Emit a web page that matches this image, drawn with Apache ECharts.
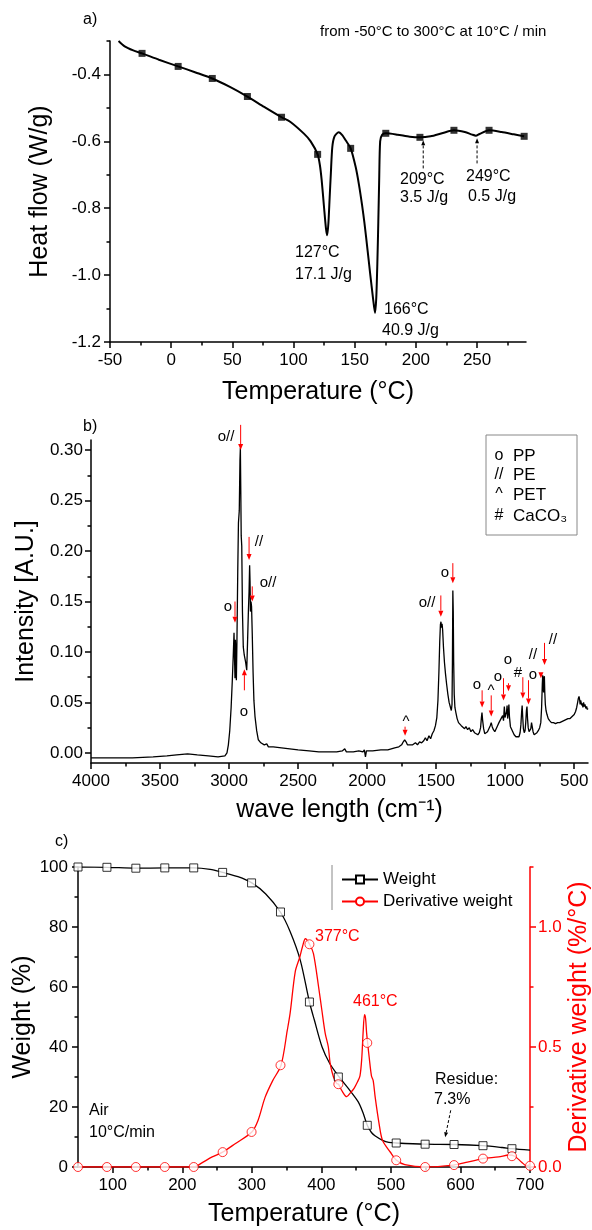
<!DOCTYPE html>
<html><head><meta charset="utf-8">
<script src="https://cdn.jsdelivr.net/npm/echarts@6/dist/echarts.min.js"></script>
<style>html,body{margin:0;padding:0;background:#fff}#c{width:592px;height:1230px}</style>
</head><body><div id="c"></div>
<script>
// ---------- Panel a: DSC ----------
const dscTemp = [-43,-38,-31,-23.8,-10,5.7,20,33.6,48,62.3,
 76,90.2,97.5,108.5,114,119.7,121.5,123,125,126.5,
 127.5,128.5,129.5,130.5,131.7,133.5,136.9,140,142.6,146.7,
 150.8,153.5,156,158,160.5,162.6,165,166.6,167.6,168.5,
 169.3,170,170.8,172.5,175.4,185,195,203.3,212,222,
 231.1,240,246,249,252,259.8,270,280,288.5];
const dscFlow = [-0.300,-0.316,-0.328,-0.337,-0.356,-0.376,-0.394,-0.412,-0.437,-0.466,
 -0.497,-0.528,-0.542,-0.577,-0.600,-0.639,-0.670,-0.716,-0.800,-0.860,
 -0.881,-0.845,-0.770,-0.696,-0.617,-0.585,-0.573,-0.582,-0.597,-0.621,
 -0.677,-0.730,-0.790,-0.845,-0.925,-0.995,-1.070,-1.113,-1.070,-0.965,
 -0.840,-0.716,-0.600,-0.580,-0.576,-0.580,-0.586,-0.588,-0.585,-0.575,
 -0.567,-0.572,-0.580,-0.583,-0.578,-0.567,-0.572,-0.579,-0.585];
const dscMarkTemp = [-23.8,5.7,33.6,62.3,90.2,119.7,146.7,175.4,203.3,231.1,259.8,288.5];
const dscMarkFlow = [-0.337,-0.376,-0.412,-0.466,-0.528,-0.639,-0.621,-0.576,-0.588,-0.567,-0.567,-0.585];
const dscXTicks = [-50,0,50,100,150,200,250];
const dscXMinor = [-25,25,75,125,175,225,275];
const dscYTicks = [-1.2,-1.0,-0.8,-0.6,-0.4];
const dscYMinor = [-1.1,-0.9,-0.7,-0.5,-0.3];
const dscArrows = [[206,-0.681,206,-0.597],[250,-0.666,250,-0.591]];

// ---------- Panel b: spectrum ----------
const specWave = [4000,3850,3700,3550,3450,3380,3300,3230,3150,3080,
 3030,3015,3005,2995,2985,2977,2970,2964,2960,2957,
 2954,2950,2947,2943,2937,2932,2926,2921,2918,2915,
 2912,2908,2903,2897,2890,2880,2872,2866,2860,2855,
 2851,2848,2845,2841,2837,2832,2826,2820,2812,2800,
 2788,2770,2745,2727,2715,2680,2620,2560,2500,2420,
 2350,2280,2220,2180,2162,2150,2100,2060,2030,2020,
 2012,2005,1960,1900,1850,1800,1770,1750,1738,1728,
 1718,1708,1695,1670,1650,1635,1620,1605,1590,1578,
 1566,1552,1540,1528,1516,1505,1495,1487,1480,1474,
 1469,1465,1461,1457,1453,1447,1440,1432,1424,1415,
 1406,1398,1390,1385,1382,1379,1376,1373,1369,1364,
 1357,1348,1338,1328,1318,1305,1294,1284,1272,1260,
 1248,1236,1222,1210,1198,1187,1178,1172,1168,1163,
 1156,1148,1138,1128,1118,1108,1101,1094,1085,1075,
 1065,1055,1045,1035,1026,1018,1012,1006,1001,995,
 990,986,982,977,973,969,962,955,945,935,
 922,910,900,892,886,881,877,873,868,862,
 856,851,846,842,838,833,827,820,814,809,
 804,798,790,780,770,760,750,742,736,731,
 728,725,722,719,716,713,709,704,697,688,
 678,665,650,635,620,605,590,575,560,545,
 530,515,500,490,482,475,470,465,461,457,
 453,449,445,441,437,432,427,422,416,410,
 405,400];
const specIntensity = [-0.005,-0.005,-0.005,-0.004,-0.003,-0.002,-0.001,-0.002,-0.003,-0.004,
 -0.003,0.000,0.008,0.022,0.045,0.070,0.095,0.119,0.092,0.074,
 0.112,0.100,0.072,0.110,0.180,0.228,0.240,0.290,0.302,0.260,
 0.215,0.205,0.140,0.105,0.097,0.090,0.082,0.110,0.140,0.160,
 0.186,0.170,0.140,0.150,0.145,0.118,0.080,0.052,0.036,0.022,
 0.013,0.010,0.008,0.009,0.006,0.006,0.005,0.004,0.003,0.002,
 0.001,0.001,0.001,0.002,0.004,0.001,0.001,0.002,0.001,0.003,
 -0.004,0.002,0.002,0.003,0.003,0.005,0.006,0.008,0.011,0.013,
 0.011,0.008,0.007,0.008,0.010,0.008,0.011,0.010,0.012,0.015,
 0.012,0.017,0.014,0.019,0.022,0.027,0.035,0.052,0.080,0.110,
 0.127,0.130,0.124,0.128,0.122,0.105,0.090,0.078,0.068,0.058,
 0.050,0.046,0.042,0.048,0.090,0.161,0.140,0.090,0.058,0.045,
 0.040,0.034,0.030,0.029,0.027,0.028,0.024,0.026,0.023,0.025,
 0.021,0.023,0.020,0.019,0.018,0.020,0.025,0.035,0.040,0.032,
 0.024,0.019,0.018,0.021,0.024,0.027,0.030,0.026,0.023,0.021,
 0.024,0.027,0.030,0.030,0.035,0.037,0.032,0.046,0.035,0.034,
 0.041,0.047,0.034,0.040,0.048,0.036,0.026,0.024,0.021,0.018,
 0.016,0.015,0.016,0.020,0.028,0.040,0.047,0.036,0.024,0.020,
 0.022,0.030,0.042,0.046,0.034,0.025,0.021,0.020,0.024,0.030,
 0.026,0.021,0.018,0.018,0.020,0.022,0.025,0.030,0.045,0.068,
 0.077,0.068,0.060,0.074,0.076,0.060,0.048,0.042,0.038,0.034,
 0.032,0.030,0.030,0.029,0.030,0.030,0.031,0.032,0.033,0.034,
 0.034,0.036,0.038,0.041,0.045,0.050,0.054,0.056,0.053,0.048,
 0.052,0.053,0.047,0.049,0.045,0.050,0.046,0.048,0.044,0.046,
 0.043,0.044];
const specXTicks = [4000,3500,3000,2500,2000,1500,1000,500];
const specXMinor = [3750,3250,2750,2250,1750,1250,750];
const specYTicks = [0,0.05,0.10,0.15,0.20,0.25,0.30];
const specYMinor = [0.025,0.075,0.125,0.175,0.225,0.275];
// arrows: [wave, from, to]
const specArrows = [[2916,0.325,0.300],[2855,0.214,0.191],[2832,0.165,0.150],[2957,0.150,0.129],
 [2889,0.062,0.083],[1466,0.156,0.135],[1379,0.188,0.168],[1167,0.062,0.045],[1101,0.057,0.036],
 [1012,0.074,0.052],[976,0.069,0.061],[872,0.075,0.054],[831,0.072,0.048],[741,0.080,0.074],
 [715,0.109,0.087],[1725,0.026,0.017]];
const specLabels = [['o//',226,437],['//',259,542],['o//',268,583],['o',228,607],['o',244,712],
 ['^',406,722],['o//',427,603],['o',445,573],['o',477,685],['^',491,691],['o',498,677],
 ['o',508,660],['#',518,673],['o',533,675],['//',533,655],['//',553,640]];

// ---------- Panel c: TGA ----------
const tgaTemp = [50,91.6,133.2,174.8,216.4,240,258,280,300,320,
 341,355,369.7,382.8,390,401,412,425.6,439,453,
 460,466,472,477,488,497,507.6,549,591,632,
 660,674,700];
const tgaWeight = [100,99.9,99.6,99.7,99.7,99.2,98.2,96.8,94.7,91.0,
 85.0,78.5,68.9,55.0,48.9,40.0,34.5,30.0,26.1,21.7,
 18.0,13.9,11.5,10.4,8.9,8.2,8.0,7.6,7.5,7.1,
 6.5,6.1,5.6];
const dtgTemp = [50,91.6,133.2,174.8,216.4,227,243,258,276,300,
 309,319,330,342,351,355,362.5,369,373,377,
 383,388.6,396,400.7,405.5,410,412.6,417.4,422,424.6,
 429,436.5,442,447,452,455.5,458,460,462,463.5,
 465,466.5,469,472,474.5,477.4,483,488,499,508,
 520,549,590,610,632,655,670,678,688,695,
 700];
const dtgValue = [0,0,0,0,0,0.015,0.042,0.062,0.097,0.146,
 0.195,0.29,0.36,0.424,0.57,0.64,0.815,0.875,0.92,0.951,
 0.928,0.889,0.75,0.653,0.557,0.50,0.432,0.375,0.348,0.345,
 0.32,0.293,0.31,0.328,0.355,0.38,0.45,0.56,0.635,0.62,
 0.56,0.517,0.45,0.38,0.36,0.29,0.18,0.11,0.0625,0.028,
 0.01,0,0.008,0.02,0.035,0.042,0.05,0.045,0.02,0.005,
 0.01];
const tgaMarkTemp = [50,91.6,133.2,174.8,216.4,258,299.6,341.2,382.8,424.4,466,507.6,549.2,590.8,632.4,674];
const weightMark = [100,99.9,99.6,99.7,99.7,98.2,94.7,85.0,55.0,30.0,13.9,8.0,7.6,7.5,7.1,6.1];
const dtgMarkTemp = [50,91.6,133.2,174.8,216.4,258,299.6,341.2,382.8,424.4,466,507.6,549.2,590.8,632.4,674,700];
const dtgMark = [0,0,0,0,0,0.062,0.146,0.424,0.928,0.345,0.517,0.028,0,0.008,0.035,0.045,0.005];
const tgaXTicks = [100,200,300,400,500,600,700];
const tgaXMinor = [150,250,350,450,550,650];
const tgaYTicks = [0,20,40,60,80,100];
const tgaYMinor = [10,30,50,70,90];
const dtgYTicks = [0,0.5,1.0];
const dtgYMinor = [0.25,0.75,1.25];
const tgaArrows = [[586,18.9,578,9.9]];

// ---------- build ----------
const FONT = '"Liberation Sans", Arial, Helvetica, sans-serif';
const BLACK = '#000', RED = '#ff0000';
const zip = (a, b) => a.map((v, i) => [v, b[i]]);

function baseAxis(gi, min, max, pos, color, extra) {
  return Object.assign({
    type: 'value', gridIndex: gi, min: min, max: max, position: pos,
    axisLine: {show: true, onZero: false, lineStyle: {color: color, width: 1.5}},
    splitLine: {show: false}
  }, extra || {});
}
function mainAx(gi, min, max, pos, color, ticks, fmt, margin, extra) {
  return baseAxis(gi, min, max, pos, color, Object.assign({
    axisTick: {show: true, customValues: ticks, length: 6, lineStyle: {color: color, width: 1.5}},
    axisLabel: {show: true, customValues: ticks, formatter: fmt, margin: margin, fontSize: 17, color: color, fontFamily: FONT}
  }, extra || {}));
}
function minorAx(gi, min, max, pos, color, ticks, extra) {
  return baseAxis(gi, min, max, pos, color, Object.assign({
    axisLine: {show: false, onZero: false},
    axisTick: {show: true, customValues: ticks, length: 3.5, lineStyle: {color: color, width: 1.5}},
    axisLabel: {show: false}
  }, extra || {}));
}
function nameOpt(name, gap, color, rot) {
  const o = {name: name, nameLocation: 'middle', nameGap: gap, nameMoveOverlap: false,
    nameTextStyle: {fontSize: 25, color: color, fontFamily: FONT}};
  if (rot != null) o.nameRotate = rot;
  return o;
}
const f0 = v => String(v);
const f1 = v => v.toFixed(1);
const f2 = v => v.toFixed(2);

const option = {
  animation: false,
  backgroundColor: '#fff',
  textStyle: {fontFamily: FONT},
  grid: [
    {left: 110, top: 41, width: 416, height: 301, outerBoundsMode: 'none', containLabel: false},
    {left: 91, top: 440, width: 497, height: 323, outerBoundsMode: 'none', containLabel: false},
    {left: 78, top: 867, width: 452, height: 300, outerBoundsMode: 'none', containLabel: false}
  ],
  xAxis: [
    mainAx(0, -50, 290, 'bottom', BLACK, dscXTicks, f0, 10, nameOpt('Temperature (°C)', 38, BLACK)),
    minorAx(0, -50, 290, 'bottom', BLACK, dscXMinor),
    mainAx(1, 400, 4000, 'bottom', BLACK, specXTicks, f0, 10, Object.assign({inverse: true}, nameOpt('wave length (cm⁻¹)', 35, BLACK))),
    minorAx(1, 400, 4000, 'bottom', BLACK, specXMinor, {inverse: true}),
    mainAx(2, 50, 700, 'bottom', BLACK, tgaXTicks, f0, 10, nameOpt('Temperature (°C)', 35, BLACK)),
    minorAx(2, 50, 700, 'bottom', BLACK, tgaXMinor)
  ],
  yAxis: [
    mainAx(0, -1.2, -0.3, 'left', BLACK, dscYTicks, f1, 9, nameOpt('Heat flow (W/g)', 57, BLACK, 90)),
    minorAx(0, -1.2, -0.3, 'left', BLACK, dscYMinor),
    mainAx(1, -0.01, 0.31, 'left', BLACK, specYTicks, f2, 8, nameOpt('Intensity [A.U.]', 52, BLACK, 90)),
    minorAx(1, -0.01, 0.31, 'left', BLACK, specYMinor),
    mainAx(2, 0, 100, 'left', BLACK, tgaYTicks, f0, 10, nameOpt('Weight (%)', 42, BLACK, 90)),
    minorAx(2, 0, 100, 'left', BLACK, tgaYMinor),
    mainAx(2, 0, 1.25, 'right', RED, dtgYTicks, f1, 8, nameOpt('Derivative weight (%/°C)', 37, RED, 90)),
    minorAx(2, 0, 1.25, 'right', RED, dtgYMinor)
  ],
  legend: {
    data: ['Weight', 'Derivative weight'], orient: 'vertical', left: 336, top: 866,
    itemWidth: 36, itemHeight: 10, itemGap: 5, selectedMode: false,
    textStyle: {fontSize: 17, color: '#000', fontFamily: FONT}
  },
  series: [
    {type: 'line', xAxisIndex: 0, yAxisIndex: 0, data: zip(dscTemp, dscFlow), showSymbol: false, smooth: 0.25,
     lineStyle: {color: BLACK, width: 2}, itemStyle: {color: BLACK}, z: 3},
    {type: 'scatter', xAxisIndex: 0, yAxisIndex: 0, data: zip(dscMarkTemp, dscMarkFlow), symbol: 'rect', symbolSize: 7,
     itemStyle: {color: BLACK}, z: 4},
    {type: 'line', xAxisIndex: 2, yAxisIndex: 2, data: zip(specWave, specIntensity), showSymbol: false,
     lineStyle: {color: BLACK, width: 1.3}, itemStyle: {color: BLACK}, z: 3},
    {type: 'line', name: 'Weight', xAxisIndex: 4, yAxisIndex: 4, data: zip(tgaTemp, tgaWeight), showSymbol: false, smooth: 0.3,
     symbol: 'emptyRect', symbolSize: 8, lineStyle: {color: BLACK, width: 1.3}, itemStyle: {color: BLACK}, z: 3},
    {type: 'line', name: 'Derivative weight', xAxisIndex: 4, yAxisIndex: 6, data: zip(dtgTemp, dtgValue), showSymbol: false, smooth: 0.3,
     symbol: 'emptyCircle', symbolSize: 8, lineStyle: {color: RED, width: 1.3}, itemStyle: {color: RED}, z: 3},
    {type: 'scatter', xAxisIndex: 4, yAxisIndex: 4, data: zip(tgaMarkTemp, weightMark), symbol: 'rect', symbolSize: 8,
     itemStyle: {color: '#fff', borderColor: BLACK, borderWidth: 1}, z: 5},
    {type: 'scatter', xAxisIndex: 4, yAxisIndex: 6, data: zip(dtgMarkTemp, dtgMark), symbol: 'circle', symbolSize: 9,
     itemStyle: {color: '#fff', borderColor: RED, borderWidth: 1}, z: 5}
  ]
};

const chart = echarts.init(document.getElementById('c'), null, {renderer: 'canvas', width: 592, height: 1230});
chart.setOption(option);

function txt(t, x, y, opts) {
  opts = opts || {};
  return {type: 'text', x: x, y: y, silent: true, z: 100,
    style: {text: t, fill: opts.color || '#000', font: (opts.size || 16) + 'px ' + FONT,
      textAlign: opts.align || 'left', align: opts.align || 'left',
      textVerticalAlign: 'middle', verticalAlign: 'middle'}};
}
function arrow(axes, a, b, color, dash, headLen, headHalf) {
  const p1 = chart.convertToPixel(axes, a);
  const p2 = chart.convertToPixel(axes, b);
  const dx = p2[0] - p1[0], dy = p2[1] - p1[1];
  const len = Math.hypot(dx, dy) || 1;
  const ux = dx / len, uy = dy / len;
  const bx = p2[0] - ux * headLen, by = p2[1] - uy * headLen;
  const els = [];
  if (len > headLen) {
    els.push({type: 'line', silent: true, z: 90, shape: {x1: p1[0], y1: p1[1], x2: bx, y2: by},
      style: {stroke: color, lineWidth: 1, lineDash: dash || null}});
  }
  els.push({type: 'polygon', silent: true, z: 90,
    shape: {points: [[p2[0], p2[1]], [bx - uy * headHalf, by + ux * headHalf], [bx + uy * headHalf, by - ux * headHalf]]},
    style: {fill: color}});
  return els;
}

const g = [];
// panel letters and notes
g.push(txt('a)', 83, 20, {size: 16}));
g.push(txt('b)', 83, 427, {size: 16}));
g.push(txt('c)', 55, 842, {size: 16}));
g.push(txt('from -50°C to 300°C at 10°C / min', 320, 32, {size: 15}));
[['127°C', 295, 253], ['17.1 J/g', 295, 275], ['166°C', 384, 310], ['40.9 J/g', 382, 331],
 ['209°C', 400, 180], ['3.5 J/g', 400, 198], ['249°C', 466, 177], ['0.5 J/g', 468, 197]]
  .forEach(d => g.push(txt(d[0], d[1], d[2], {size: 16})));
dscArrows.forEach(a => arrow({xAxisIndex: 0, yAxisIndex: 0}, [a[0], a[1]], [a[2], a[3]], '#000', [3, 2], 5, 2).forEach(e => g.push(e)));

// panel b
specArrows.forEach(a => arrow({xAxisIndex: 2, yAxisIndex: 2}, [a[0], a[1]], [a[0], a[2]], RED, null, 6, 2.5).forEach(e => g.push(e)));
specLabels.forEach(d => g.push(txt(d[0], d[1], d[2], {size: 15, align: 'center'})));
g.push({type: 'rect', silent: true, z: 80, shape: {x: 486, y: 435, width: 91, height: 100},
  style: {fill: '#fff', stroke: '#888', lineWidth: 1}});
[['o', 'PP', 456], ['//', 'PE', 475], ['^', 'PET', 495], ['#', 'CaCO₃', 516]].forEach(d => {
  g.push(txt(d[0], 499, d[2], {size: 16, align: 'center'}));
  g.push(txt(d[1], 513, d[2], {size: 17}));
});

// panel c
g.push({type: 'line', silent: true, z: 80, shape: {x1: 332, y1: 865, x2: 332, y2: 910}, style: {stroke: '#888', lineWidth: 1}});
g.push(txt('377°C', 315, 937, {size: 16, color: RED}));
g.push(txt('461°C', 353, 1002, {size: 16, color: RED}));
g.push(txt('Residue:', 435, 1080, {size: 16}));
g.push(txt('7.3%', 434, 1100, {size: 16}));
g.push(txt('Air', 89, 1111, {size: 16}));
g.push(txt('10°C/min', 89, 1133, {size: 16}));
tgaArrows.forEach(a => arrow({xAxisIndex: 4, yAxisIndex: 4}, [a[0], a[1]], [a[2], a[3]], '#000', [3, 2], 5, 2).forEach(e => g.push(e)));

chart.setOption({graphic: g});
</script></body></html>
